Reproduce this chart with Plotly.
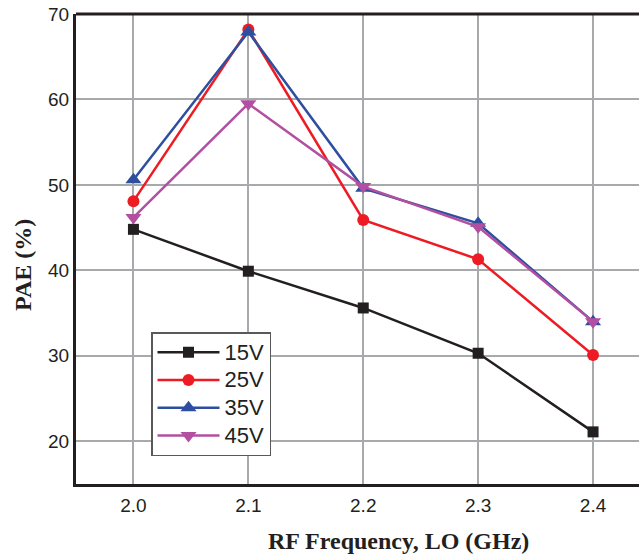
import plotly.graph_objects as go

freq = [2.0, 2.1, 2.2, 2.3, 2.4]
pae_15v = [44.8, 39.9, 35.6, 30.3, 21.1]
pae_25v = [48.1, 68.2, 45.9, 41.3, 30.1]
pae_35v = [50.6, 67.9, 49.6, 45.5, 34.0]
pae_45v = [46.2, 59.5, 49.8, 45.1, 34.0]
series_names = ["15V", "25V", "35V", "45V"]
x_ticks = [2.0, 2.1, 2.2, 2.3, 2.4]
x_tick_labels = ["2.0", "2.1", "2.2", "2.3", "2.4"]
y_ticks = [20, 30, 40, 50, 60, 70]

colors = ["#231f20", "#ed1c24", "#2e4fa0", "#b24fa0"]
symbols = ["square", "circle", "triangle-up", "triangle-down"]
sizes = [11, 12, 14, 14]

fig = go.Figure()
for name, vals, c, s, sz in zip(series_names, [pae_15v, pae_25v, pae_35v, pae_45v], colors, symbols, sizes):
    fig.add_trace(go.Scatter(
        x=freq, y=vals, name="<span style='font-size:22px'>" + name + "</span>",
        mode="lines+markers",
        line=dict(color=c, width=2.5),
        marker=dict(color=c, symbol=s, size=sz, line=dict(width=0)),
    ))

axis_font = dict(family="Liberation Sans, Arial", size=19, color="#231f20")
fig.update_xaxes(
    range=[1.95, 2.44], tickvals=x_ticks, ticktext=x_tick_labels,
    showgrid=True, gridcolor="#a7a9ac", gridwidth=1.5,
    showline=True, linecolor="#231f20", linewidth=3,
    ticks="outside", ticklen=2, tickcolor="rgba(0,0,0,0)",
    tickfont=axis_font, zeroline=False,
)
fig.update_yaxes(
    range=[15, 70], tickvals=y_ticks,
    showgrid=True, gridcolor="#a7a9ac", gridwidth=1.5,
    showline=True, linecolor="#231f20", linewidth=3,
    ticks="", tickfont=axis_font, zeroline=False,
)

fig.add_shape(type="line", xref="paper", yref="paper", x0=0, x1=1, y0=1, y1=1,
              line=dict(color="#231f20", width=3))

title_font = dict(family="Liberation Serif, Times New Roman", size=24, color="#231f20")
fig.add_annotation(text="<b>RF Frequency, LO (GHz)</b>", xref="paper", yref="paper",
                   x=(398 - 76) / 563, y=(484 - 541) / 470, showarrow=False,
                   font=title_font, xanchor="center", yanchor="middle")
fig.add_annotation(text="<b>PAE (%)</b>", xref="paper", yref="paper",
                   x=(23 - 76) / 563, y=(484 - 265) / 470, showarrow=False,
                   font=title_font, textangle=-90, xanchor="center", yanchor="middle")

fig.update_layout(
    width=639, height=555,
    margin=dict(l=76, r=0, t=14, b=71),
    paper_bgcolor="white", plot_bgcolor="white",
    showlegend=True,
    legend=dict(
        x=(151 - 76) / 563, y=(484 - 332) / 470, xanchor="left", yanchor="top",
        bgcolor="white", bordercolor="#58595b", borderwidth=1.5,
        font=dict(family="Liberation Sans, Arial", size=19, color="#231f20"),
        itemwidth=62, tracegroupgap=0,
    ),
)

fig.write_html("out.html", config={"displayModeBar": False},
               post_script="document.body.style.margin='0px';document.body.style.overflow='hidden';")
